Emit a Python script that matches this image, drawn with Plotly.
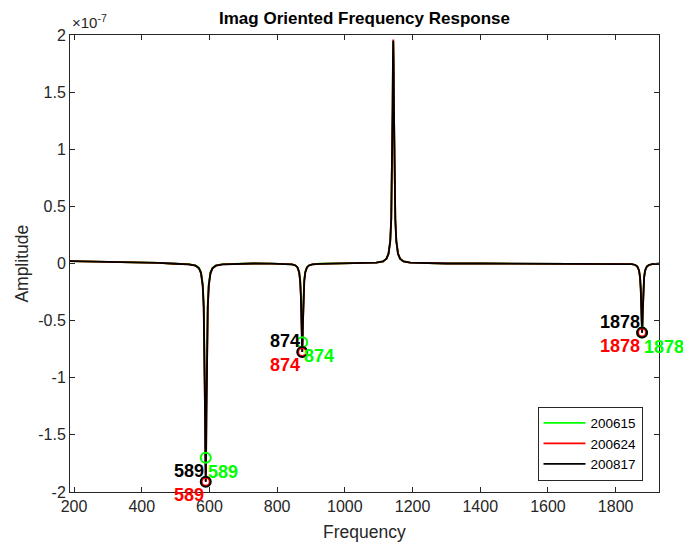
import plotly.graph_objects as go

# ---------------- data (amplitude in units of 1e-7) ----------------
FREQ = [188, 250, 300, 350, 400, 450,
        499, 539, 559, 569, 575, 580, 583, 585, 586, 587, 588, 589, 590, 591, 592, 593, 595, 598, 603, 609, 619, 639, 679,
        730,
        784, 824, 844, 854, 860, 865, 868, 870, 871, 872, 873, 874, 875, 876, 877, 878, 880, 883, 888, 894, 904, 924, 964,
        1010,
        1053, 1093, 1113, 1123, 1129, 1134, 1137, 1139, 1140, 1141, 1142, 1143, 1144, 1145, 1146, 1147, 1149, 1152, 1157, 1163, 1173, 1193, 1233,
        1300, 1400, 1500, 1600, 1700,
        1788, 1828, 1848, 1858, 1864, 1869, 1872, 1874, 1875, 1876, 1877, 1878, 1879, 1880, 1881, 1882, 1884, 1887, 1892, 1898, 1908, 1928]

AMP_200615 = [0.02, 0.017, 0.014, 0.011, 0.008, 0.005,
              -0.002, -0.006, -0.017, -0.037, -0.075, -0.17, -0.34, -0.612, -0.85, -1.177, -1.53, -1.70, -1.53, -1.177, -0.85, -0.612, -0.34, -0.17, -0.075, -0.037, -0.017, -0.006, -0.002,
              0.0,
              -0.001, -0.002, -0.007, -0.015, -0.030, -0.069, -0.138, -0.248, -0.345, -0.478, -0.621, -0.69, -0.621, -0.478, -0.345, -0.248, -0.138, -0.069, -0.030, -0.015, -0.007, -0.002, -0.001,
              0.0,
              0.002, 0.007, 0.019, 0.043, 0.086, 0.195, 0.39, 0.702, 0.975, 1.35, 1.755, 1.95, 1.755, 1.35, 0.975, 0.702, 0.39, 0.195, 0.086, 0.043, 0.019, 0.007, 0.002,
              0.0, 0.0, 0.0, 0.0, 0.0,
              -0.001, -0.002, -0.006, -0.013, -0.027, -0.061, -0.121, -0.218, -0.303, -0.419, -0.545, -0.605, -0.545, -0.419, -0.303, -0.218, -0.121, -0.061, -0.027, -0.013, -0.006, -0.002]

AMP_200624 = [0.02, 0.017, 0.014, 0.011, 0.008, 0.005,
              -0.002, -0.007, -0.019, -0.042, -0.084, -0.191, -0.382, -0.688, -0.955, -1.322, -1.719, -1.91, -1.719, -1.322, -0.955, -0.688, -0.382, -0.191, -0.084, -0.042, -0.019, -0.007, -0.002,
              0.0,
              -0.001, -0.003, -0.008, -0.017, -0.034, -0.078, -0.155, -0.279, -0.388, -0.537, -0.698, -0.775, -0.698, -0.537, -0.388, -0.279, -0.155, -0.078, -0.034, -0.017, -0.008, -0.003, -0.001,
              0.0,
              0.002, 0.007, 0.019, 0.043, 0.086, 0.196, 0.392, 0.706, 0.98, 1.357, 1.764, 1.96, 1.764, 1.357, 0.98, 0.706, 0.392, 0.196, 0.086, 0.043, 0.019, 0.007, 0.002,
              0.0, 0.0, 0.0, 0.0, 0.0,
              -0.001, -0.002, -0.006, -0.013, -0.027, -0.061, -0.121, -0.218, -0.303, -0.419, -0.545, -0.605, -0.545, -0.419, -0.303, -0.218, -0.121, -0.061, -0.027, -0.013, -0.006, -0.002]

AMP_200817 = [0.02, 0.017, 0.014, 0.011, 0.008, 0.005,
              -0.002, -0.007, -0.019, -0.042, -0.084, -0.191, -0.382, -0.688, -0.955, -1.322, -1.719, -1.91, -1.719, -1.322, -0.955, -0.688, -0.382, -0.191, -0.084, -0.042, -0.019, -0.007, -0.002,
              0.0,
              -0.001, -0.003, -0.008, -0.017, -0.034, -0.078, -0.155, -0.279, -0.388, -0.537, -0.698, -0.775, -0.698, -0.537, -0.388, -0.279, -0.155, -0.078, -0.034, -0.017, -0.008, -0.003, -0.001,
              0.0,
              0.002, 0.007, 0.019, 0.043, 0.086, 0.195, 0.39, 0.702, 0.975, 1.35, 1.755, 1.95, 1.755, 1.35, 0.975, 0.702, 0.39, 0.195, 0.086, 0.043, 0.019, 0.007, 0.002,
              0.0, 0.0, 0.0, 0.0, 0.0,
              -0.001, -0.002, -0.006, -0.013, -0.027, -0.061, -0.121, -0.218, -0.303, -0.419, -0.545, -0.605, -0.545, -0.419, -0.303, -0.218, -0.121, -0.061, -0.027, -0.013, -0.006, -0.002]

SERIES_NAMES = ["200615", "200624", "200817"]
SERIES_COLORS = ["#00ff00", "#ff0000", "#000000"]

PEAK_FREQ = [589, 874, 1878]
PEAK_200615 = [-1.70, -0.69, -0.605]
PEAK_200624 = [-1.91, -0.775, -0.605]
PEAK_200817 = [-1.91, -0.775, -0.605]

X_TICKS = [200, 400, 600, 800, 1000, 1200, 1400, 1600, 1800]
Y_TICKS = [2, 1.5, 1, 0.5, 0, -0.5, -1, -1.5, -2]
Y_TICK_TEXT = ["2", "1.5", "1", "0.5", "0", "-0.5", "-1", "-1.5", "-2"]

AX = "#262626"
FONT = "Liberation Sans, Arial, sans-serif"

fig = go.Figure()
for name, color, amp in zip(SERIES_NAMES, SERIES_COLORS, [AMP_200615, AMP_200624, AMP_200817]):
    fig.add_trace(go.Scatter(x=FREQ, y=amp, mode="lines", name=name,
                             line=dict(color=color, width=1.8)))

marker_sizes = [10, 8, 10]
for name, color, vals, ms in zip(SERIES_NAMES, SERIES_COLORS, [PEAK_200615, PEAK_200624, PEAK_200817], marker_sizes):
    fig.add_trace(go.Scatter(x=PEAK_FREQ, y=vals, mode="markers", showlegend=False,
                             marker=dict(symbol="circle-open", size=ms, color=color, line=dict(width=2, color=color)),
                             hoverinfo="skip"))

# peak labels
label_style = {
    "200615": dict(xanchor="left", xshift=1, yshift=-14),
    "200624": dict(xanchor="right", xshift=-1, yshift=-13),
    "200817": dict(xanchor="right", xshift=-1, yshift=11),
}
for name, color, vals in zip(SERIES_NAMES, SERIES_COLORS, [PEAK_200615, PEAK_200624, PEAK_200817]):
    for f, v in zip(PEAK_FREQ, vals):
        st = label_style[name]
        fig.add_annotation(x=f, y=v, xref="x", yref="y", text="<b>%d</b>" % f, showarrow=False,
                           xanchor=st["xanchor"], yanchor="middle", xshift=st["xshift"], yshift=st["yshift"],
                           font=dict(family=FONT, size=18, color=color), borderpad=0)

# axis titles / exponent
fig.add_annotation(x=0.5, y=-0.088, xref="paper", yref="paper", text="Frequency", showarrow=False,
                   xanchor="center", yanchor="middle", font=dict(family=FONT, size=17.5, color=AX))
fig.add_annotation(x=-0.083, y=0.5, xref="paper", yref="paper", text="Amplitude", showarrow=False,
                   textangle=-90, xanchor="center", yanchor="middle", font=dict(family=FONT, size=17.5, color=AX))
fig.add_annotation(x=0.0, y=1.0, xref="paper", yref="paper", text="\u00d710<sup>-7</sup>", showarrow=False,
                   xanchor="left", yanchor="bottom", yshift=2, font=dict(family=FONT, size=15, color=AX))

fig.update_layout(
    width=683, height=542,
    margin=dict(l=70, r=24, t=35, b=50),
    paper_bgcolor="white", plot_bgcolor="white",
    title=dict(text="<b>Imag Oriented Frequency Response</b>", x=0.5, xref="paper", y=1 - 18 / 542,
               yanchor="middle", font=dict(family=FONT, size=17, color="black")),
    font=dict(family=FONT, color=AX),
    showlegend=True,
    legend=dict(x=0.972, y=0.025, xanchor="right", yanchor="bottom", bgcolor="white",
                bordercolor=AX, borderwidth=1, font=dict(family=FONT, size=13.5, color="black"),
                tracegroupgap=0, itemwidth=42),
    xaxis=dict(range=[188, 1928], tickvals=X_TICKS, ticks="inside", ticklen=5, tickcolor=AX,
               showline=True, linecolor=AX, linewidth=1, mirror="ticks", showgrid=False, zeroline=False,
               tickfont=dict(family=FONT, size=16, color=AX)),
    yaxis=dict(range=[-2, 2], tickvals=Y_TICKS, ticktext=Y_TICK_TEXT, ticks="inside", ticklen=5, tickcolor=AX,
               showline=True, linecolor=AX, linewidth=1, mirror="ticks", showgrid=False, zeroline=False,
               tickfont=dict(family=FONT, size=16, color=AX)),
)

fig.write_html("out.html")
